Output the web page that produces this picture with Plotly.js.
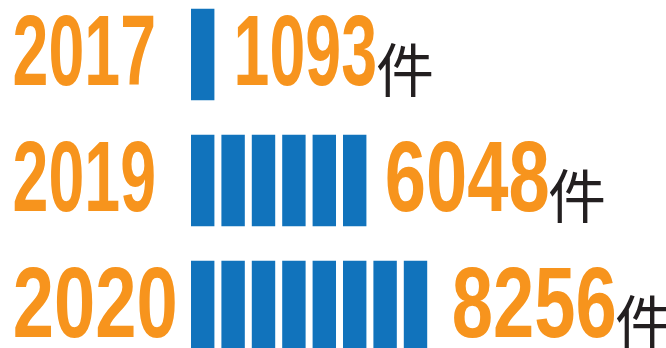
<!DOCTYPE html>
<html><head><meta charset="utf-8">
<script src="https://cdn.plot.ly/plotly-3.0.1.min.js"></script>
<style>html,body{margin:0;padding:0;background:#fff;overflow:hidden}#chart{width:666px;height:348px}</style>
</head><body><div id="chart"></div>
<script>
// ---- data ----
var years = ['2017', '2019', '2020'];
var counts = [1093, 6048, 8256];
var unitSize = 1000;          // one blue block = 1000 件
var unitLabel = '件';

// ---- layout / style constants ----
var W = 666, H = 348;
var barStartPx = 191, pitchPx = 30.4, segFrac = 0.77;
var rowPitch = 126, firstRowCenter = 54.5, barThick = 0.725;
var orange = '#F7941D', blue = '#1173BC', ink = '#231F20';
var digitFont = "Liberation Sans Narrow, Liberation Sans, Arial, sans-serif";
var cjkFont = "Noto Sans CJK SC, Noto Sans CJK JP, sans-serif";
var digitSize = 101, cjkSize = 58;

function labelWidth(s) {
  var w = 0;
  for (var i = 0; i < s.length; i++) w += (s[i] === '1') ? 16 : 37.5;
  return w + 5 * (s.length - 1);
}

// ---- bars: one block per full unit ----
var bx = [], by = [], bbase = [];
years.forEach(function (yr, i) {
  var n = Math.floor(counts[i] / unitSize);
  for (var k = 0; k < n; k++) { bx.push(segFrac); by.push(i); bbase.push(k); }
});

var data = [{
  type: 'bar', orientation: 'h',
  x: bx, y: by, base: bbase, width: barThick,
  marker: { color: blue, line: { width: 0 } },
  hoverinfo: 'skip'
}];

var annotations = [], stretch = [];
years.forEach(function (yr, i) {
  var wy = labelWidth(yr);
  annotations.push({
    xref: 'paper', yref: 'y', x: (13 + wy / 2) / W, y: i,
    xanchor: 'center', yanchor: 'middle', yshift: 5, showarrow: false,
    text: yr, font: { family: digitFont, size: digitSize, color: orange, weight: 'bold' }
  });
  stretch.push(wy);
  var vs = String(counts[i]);
  var wv = labelWidth(vs);
  annotations.push({
    xref: 'x', yref: 'y', x: counts[i] / unitSize, y: i,
    xanchor: 'center', yanchor: 'middle', xshift: 10 + wv / 2, yshift: 5, showarrow: false,
    text: vs, font: { family: digitFont, size: digitSize, color: orange, weight: 'bold' }
  });
  stretch.push(wv);
  annotations.push({
    xref: 'x', yref: 'y', x: counts[i] / unitSize, y: i,
    xanchor: 'left', yanchor: 'middle', xshift: 10 + wv - 4, yshift: -12.5, showarrow: false,
    text: unitLabel, font: { family: cjkFont, size: cjkSize, color: ink }
  });
  stretch.push(null);
});

var layout = {
  width: W, height: H,
  margin: { l: 0, r: 0, t: 0, b: 0, pad: 0 },
  paper_bgcolor: '#ffffff', plot_bgcolor: '#ffffff',
  showlegend: false, barmode: 'overlay',
  xaxis: { range: [-barStartPx / pitchPx, (W - barStartPx) / pitchPx], showgrid: false, zeroline: false, showticklabels: false, ticks: '', fixedrange: true },
  yaxis: {
    range: [(H - firstRowCenter) / rowPitch, -firstRowCenter / rowPitch],
    showgrid: false, zeroline: false, showticklabels: false, ticks: '', fixedrange: true
  },
  annotations: annotations
};

Plotly.newPlot('chart', data, layout, { displayModeBar: false }).then(function (gd) {
  // squeeze the condensed display digits horizontally to their target width
  var groups = gd.querySelectorAll('g.annotation');
  Array.prototype.forEach.call(groups, function (g) {
    var idx = +g.getAttribute('data-index');
    var target = stretch[idx];
    if (target == null) return;
    var t = g.querySelector('text.annotation-text');
    if (!t) return;
    var bb = t.getBBox();
    if (!bb.width) return;
    var sx = target / bb.width;
    var cx = bb.x + bb.width / 2;
    var tf = 'translate(' + cx + ',0) scale(' + sx + ',1) translate(' + (-cx) + ',0)';
    t.setAttribute('transform', tf);
    var r = t.parentNode.querySelector('rect.bg');
    if (r) r.setAttribute('transform', tf);
  });
});
</script>
</body></html>
